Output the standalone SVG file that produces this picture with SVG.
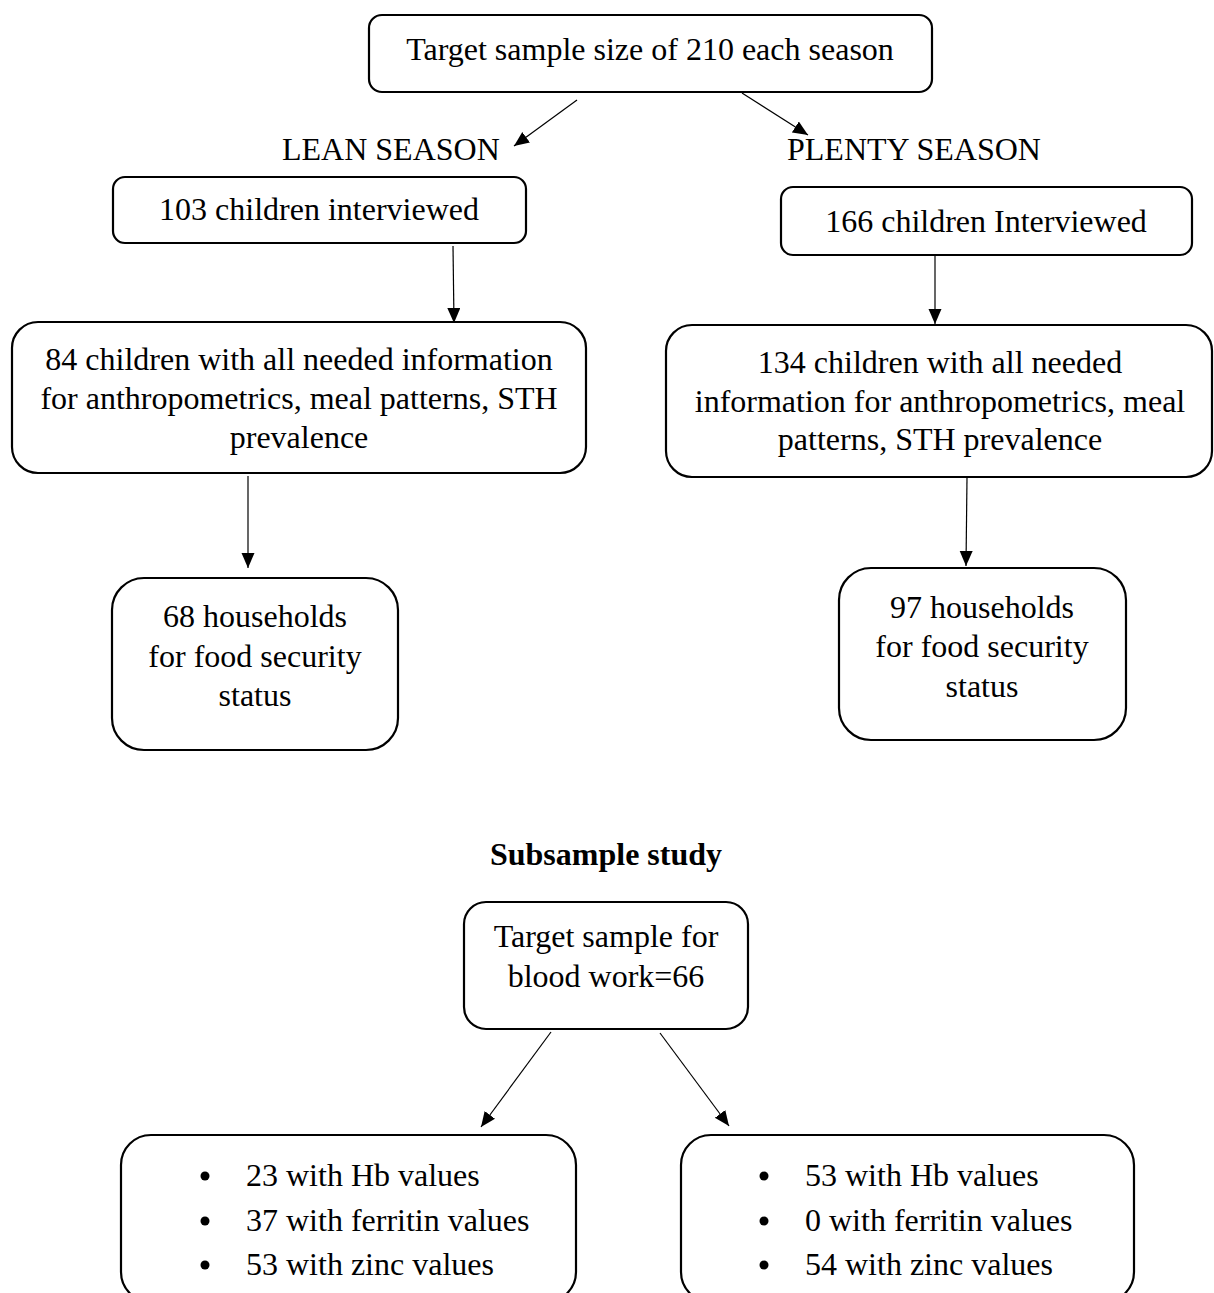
<svg xmlns="http://www.w3.org/2000/svg" width="1214" height="1293" viewBox="0 0 1214 1293">
<style>
.box{fill:#fff;stroke:#000;stroke-width:2.2}
.t{font-family:"Liberation Serif","Times New Roman",serif;font-size:32px;fill:#000}
.c{text-anchor:middle}
.b{font-weight:bold}
.con{stroke:#000;stroke-width:1.2;fill:none;marker-end:url(#ah)}
</style>
<defs>
<marker id="ah" markerUnits="userSpaceOnUse" markerWidth="16" markerHeight="14" refX="15" refY="6.5" orient="auto">
<path d="M0,0 L15,6.5 L0,13 z" fill="#000"/>
</marker>
</defs>
<rect width="1214" height="1293" fill="#fff"/>
<g id="connectors">
<line class="con" x1="577" y1="100" x2="514" y2="146"/>
<line class="con" x1="742" y1="93" x2="808" y2="135"/>
<line class="con" x1="453" y1="246" x2="454" y2="323"/>
<line class="con" x1="935" y1="246" x2="935" y2="324"/>
<line class="con" x1="248" y1="476" x2="248" y2="568"/>
<line class="con" x1="967" y1="478" x2="966" y2="566"/>
<line class="con" x1="551" y1="1032" x2="481" y2="1127"/>
<line class="con" x1="660" y1="1033" x2="729" y2="1126"/>
</g>
<g id="top">
<rect class="box" x="369" y="15" width="563" height="77" rx="13"/>
<text class="t c" x="650" y="60">Target sample size of 210 each season</text>
</g>
<g id="lean-label"><text class="t" x="282" y="160">LEAN SEASON</text></g>
<g id="plenty-label"><text class="t" x="787" y="160">PLENTY SEASON</text></g>
<g id="lean-interviewed">
<rect class="box" x="113" y="177" width="413" height="66" rx="12"/>
<text class="t c" x="319" y="220">103 children interviewed</text>
</g>
<g id="plenty-interviewed">
<rect class="box" x="781" y="187" width="411" height="68" rx="12"/>
<text class="t c" x="986" y="232">166 children Interviewed</text>
</g>
<g id="lean-84">
<rect class="box" x="12" y="322" width="574" height="151" rx="26"/>
<text class="t c" x="299" y="370">84 children with all needed information</text>
<text class="t c" x="299" y="409">for anthropometrics, meal patterns, STH</text>
<text class="t c" x="299" y="448">prevalence</text>
</g>
<g id="plenty-134">
<rect class="box" x="666" y="325" width="546" height="152" rx="26"/>
<text class="t c" x="940" y="373">134 children with all needed</text>
<text class="t c" x="940" y="412">information for anthropometrics, meal</text>
<text class="t c" x="940" y="450">patterns, STH prevalence</text>
</g>
<g id="lean-68">
<rect class="box" x="112" y="578" width="286" height="172" rx="32"/>
<text class="t c" x="255" y="627">68 households</text>
<text class="t c" x="255" y="667">for food security</text>
<text class="t c" x="255" y="706">status</text>
</g>
<g id="plenty-97">
<rect class="box" x="839" y="568" width="287" height="172" rx="32"/>
<text class="t c" x="982" y="618">97 households</text>
<text class="t c" x="982" y="657">for food security</text>
<text class="t c" x="982" y="697">status</text>
</g>
<g id="subsample-title"><text class="t c b" x="606" y="865">Subsample study</text></g>
<g id="blood-target">
<rect class="box" x="464" y="902" width="284" height="127" rx="22"/>
<text class="t c" x="606" y="947">Target sample for</text>
<text class="t c" x="606" y="987">blood work=66</text>
</g>
<g id="lean-blood">
<rect class="box" x="121" y="1135" width="455" height="167" rx="30"/>
<circle cx="205" cy="1176" r="4.5"/>
<circle cx="205" cy="1221" r="4.5"/>
<circle cx="205" cy="1265" r="4.5"/>
<text class="t" x="246" y="1186">23 with Hb values</text>
<text class="t" x="246" y="1231">37 with ferritin values</text>
<text class="t" x="246" y="1275">53 with zinc values</text>
</g>
<g id="plenty-blood">
<rect class="box" x="681" y="1135" width="453" height="167" rx="30"/>
<circle cx="764" cy="1176" r="4.5"/>
<circle cx="764" cy="1221" r="4.5"/>
<circle cx="764" cy="1265" r="4.5"/>
<text class="t" x="805" y="1186">53 with Hb values</text>
<text class="t" x="805" y="1231">0 with ferritin values</text>
<text class="t" x="805" y="1275">54 with zinc values</text>
</g>
</svg>
